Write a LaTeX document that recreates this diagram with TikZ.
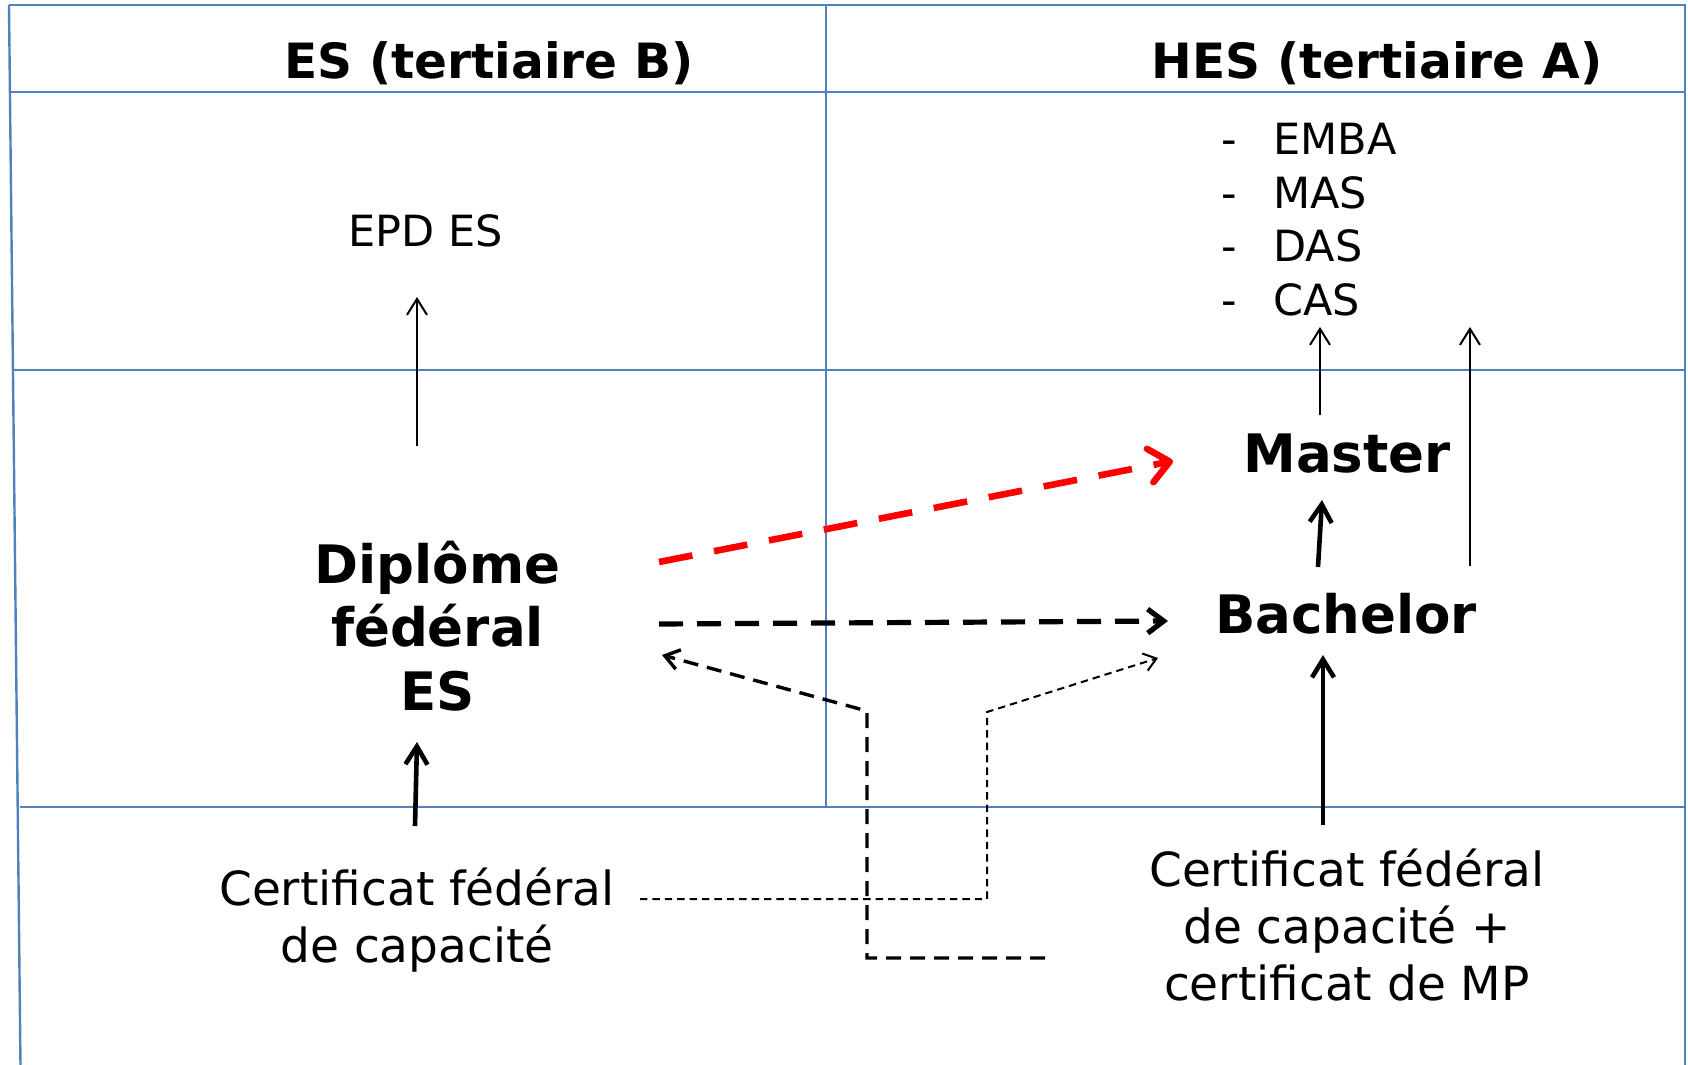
\documentclass[tikz,border=0pt]{standalone}
\usepackage{fontspec}
\setmainfont{DejaVu Sans}
\usetikzlibrary{arrows.meta}
\definecolor{gridblue}{HTML}{4F81BD}
\tikzset{
  gridline/.style={gridblue, line width=1.2pt},
  header/.style={anchor=base, inner sep=0pt, font=\fontsize{24.3}{29}\selectfont\bfseries},
  course/.style={anchor=base, inner sep=0pt, font=\fontsize{21.5}{26.7}\selectfont},
  degree/.style={anchor=base, inner sep=0pt, align=center, font=\fontsize{26.5}{31.75}\selectfont\bfseries},
  certificate/.style={anchor=base, inner sep=0pt, align=center, font=\fontsize{23.5}{28.5}\selectfont},
  thinarrow/.style={line width=1pt, -{Straight Barb[length=8pt,width=10pt]}},
  boldarrow/.style={line width=2.3pt, -{Straight Barb[length=9pt,width=11pt]}},
  redpath/.style={red, line width=3.3pt, dash pattern=on 17pt off 11pt, -{Straight Barb[round,length=10pt,width=17pt]}},
  mainpath/.style={line width=2.6pt, dash pattern=on 12pt off 7pt, -{Straight Barb[length=8pt,width=12pt]}},
  backpath/.style={line width=1.7pt, dash pattern=on 7.5pt off 4.5pt, -{Straight Barb[length=7pt,width=10pt]}},
  sidepath/.style={line width=1pt, dash pattern=on 3.7pt off 2.5pt, -{Straight Barb[length=6pt,width=9pt]}}
}
\begin{document}
\begin{tikzpicture}[x=0.5pt, y=-0.5pt]
  \useasboundingbox (0,0) rectangle (1688,1065);

  % table
  \draw[gridline] (9,5) -- (1686,5);
  \draw[gridline] (9,5) -- (20.5,1065);
  \draw[gridline] (1685,5) -- (1685,1065);
  \draw[gridline] (10,92) -- (1685,92);
  \draw[gridline] (13,370) -- (1685,370);
  \draw[gridline] (20,807) -- (1685,807);
  \draw[gridline] (826,5) -- (826,807);

  \node[header] (colB) at (489,79) {ES (tertiaire B)};
  \node[header] (colA) at (1377,79) {HES (tertiaire A)};

  \node[course] (epd) at (425.5,246) {EPD ES};
  % base of a multi-line node = baseline of its last line
  \node[course, anchor=base west, align=left] (postgrad) at (1221,315)
    {\makebox[26pt][l]{-}EMBA\\\makebox[26pt][l]{-}MAS\\
     \makebox[26pt][l]{-}DAS\\\makebox[26pt][l]{-}CAS};

  \node[degree] (diplome) at (437.5,710) {Diplôme\\fédéral\\ES};
  \node[degree] (master) at (1347,472) {Master};
  \node[degree] (bachelor) at (1346,633) {Bachelor};

  \node[certificate] (cfc) at (417,962) {Certificat fédéral\\de capacité};
  \node[certificate] (cfcmp) at (1347,1000) {Certificat fédéral\\de capacité +\\certificat de MP};

  % filieres
  \draw[boldarrow] ([shift={(-2,-136)}]cfc.base) -- ([shift={(-20.5,32)}]diplome.base);
  \draw[thinarrow] ([shift={(-20.5,-264)}]diplome.base) -- ([shift={(-8.5,51)}]epd.base);
  \draw[boldarrow] ([shift={(-24,-175)}]cfcmp.base) -- ([shift={(-23,22)}]bachelor.base);
  \draw[boldarrow] ([shift={(-28,-66)}]bachelor.base) -- ([shift={(-25,28)}]master.base);
  \draw[thinarrow] ([shift={(-27,-57)}]master.base) -- ([shift={(99,12)}]postgrad.base west);
  \draw[thinarrow] ([shift={(124,-67)}]bachelor.base) -- ([shift={(249,12)}]postgrad.base west);

  % passerelles
  \draw[redpath] ([shift={(221.5,-148)}]diplome.base) -- ([shift={(-174,-11)}]master.base);
  \draw[mainpath] ([shift={(221.5,-86)}]diplome.base) -- ([shift={(-178,-12)}]bachelor.base);
  \draw[backpath] ([shift={(-302,-42)}]cfcmp.base) -- ++(-178,0) -- ++(0,-247)
    -- ([shift={(224.5,-55)}]diplome.base);
  \draw[sidepath] ([shift={(223,-63)}]cfc.base) -- ++(347,0) -- ++(0,-187)
    -- ([shift={(-188,25)}]bachelor.base);
\end{tikzpicture}
\end{document}
